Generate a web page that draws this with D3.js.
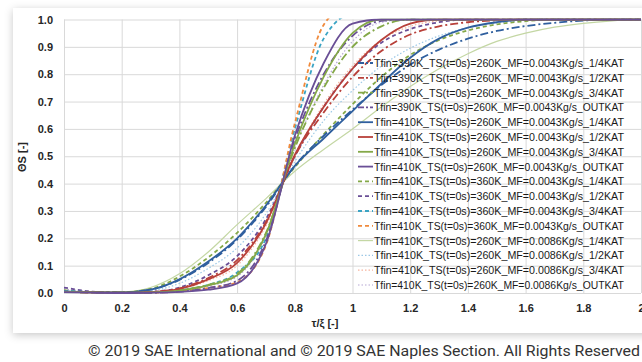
<!DOCTYPE html>
<html>
<head>
<meta charset="utf-8">
<script src="https://cdn.jsdelivr.net/npm/d3@7"></script>
<style>
  body { margin: 0; background: #fff; }
  svg { display: block; }
</style>
</head>
<body>
<div id="chart"></div>
<script>
// x positions (tau/xi) shared by every series
var xVals = [0, 0.1, 0.2, 0.3, 0.4, 0.5, 0.6, 0.7, 0.8, 0.9, 1.0, 1.1, 1.2, 1.3, 1.4, 1.5, 1.6, 1.7, 1.8, 1.9, 2.0]

var xTicks = [0, 0.2, 0.4, 0.6, 0.8, 1, 1.2, 1.4, 1.6, 1.8, 2]
var yTicks = [0, 0.1, 0.2, 0.3, 0.4, 0.5, 0.6, 0.7, 0.8, 0.9, 1.0]

var seriesNames = [
  "Tfin=390K_TS(t=0s)=260K_MF=0.0043Kg/s_1/4KAT",
  "Tfin=390K_TS(t=0s)=260K_MF=0.0043Kg/s_1/2KAT",
  "Tfin=390K_TS(t=0s)=260K_MF=0.0043Kg/s_3/4KAT",
  "Tfin=390K_TS(t=0s)=260K_MF=0.0043Kg/s_OUTKAT",
  "Tfin=410K_TS(t=0s)=260K_MF=0.0043Kg/s_1/4KAT",
  "Tfin=410K_TS(t=0s)=260K_MF=0.0043Kg/s_1/2KAT",
  "Tfin=410K_TS(t=0s)=260K_MF=0.0043Kg/s_3/4KAT",
  "Tfin=410K_TS(t=0s)=260K_MF=0.0043Kg/s_OUTKAT",
  "Tfin=410K_TS(t=0s)=360K_MF=0.0043Kg/s_1/4KAT",
  "Tfin=410K_TS(t=0s)=360K_MF=0.0043Kg/s_1/2KAT",
  "Tfin=410K_TS(t=0s)=360K_MF=0.0043Kg/s_3/4KAT",
  "Tfin=410K_TS(t=0s)=360K_MF=0.0043Kg/s_OUTKAT",
  "Tfin=410K_TS(t=0s)=260K_MF=0.0086Kg/s_1/4KAT",
  "Tfin=410K_TS(t=0s)=260K_MF=0.0086Kg/s_1/2KAT",
  "Tfin=410K_TS(t=0s)=260K_MF=0.0086Kg/s_3/4KAT",
  "Tfin=410K_TS(t=0s)=260K_MF=0.0086Kg/s_OUTKAT"
]

// ΘS values
var s390_14 = [0.005, 0.003, 0.002, 0.012, 0.048, 0.11, 0.195, 0.315, 0.465, 0.575, 0.67, 0.76, 0.835, 0.89, 0.93, 0.958, 0.976, 0.988, 0.996, 1.0, 1.0]
var s390_12 = [0.004, 0.002, 0.001, 0.004, 0.017, 0.055, 0.12, 0.26, 0.5, 0.66, 0.79, 0.885, 0.945, 0.975, 0.99, 0.997, 1.0, 1.0, 1.0, 1.0, 1.0]
var s390_34 = [0.004, 0.002, 0.001, 0.002, 0.01, 0.03, 0.07, 0.22, 0.53, 0.75, 0.9, 0.975, 1.0, 1.0, 1.0, 1.0, 1.0, 1.0, 1.0, 1.0, 1.0]
var s390_out = [0.004, 0.002, 0.0, 0.001, 0.005, 0.018, 0.045, 0.19, 0.56, 0.8, 0.94, 0.995, 1.0, 1.0, 1.0, 1.0, 1.0, 1.0, 1.0, 1.0, 1.0]
var s410_14 = [0.005, 0.003, 0.002, 0.012, 0.05, 0.115, 0.2, 0.32, 0.465, 0.565, 0.665, 0.765, 0.86, 0.93, 0.97, 0.99, 1.0, 1.0, 1.0, 1.0, 1.0]
var s410_12 = [0.004, 0.002, 0.001, 0.003, 0.015, 0.05, 0.11, 0.255, 0.505, 0.68, 0.82, 0.925, 0.985, 1.0, 1.0, 1.0, 1.0, 1.0, 1.0, 1.0, 1.0]
var s410_34 = [0.004, 0.002, 0.001, 0.002, 0.009, 0.028, 0.065, 0.215, 0.545, 0.79, 0.95, 1.0, 1.0, 1.0, 1.0, 1.0, 1.0, 1.0, 1.0, 1.0, 1.0]
var s410_out = [0.003, 0.001, 0.0, 0.001, 0.004, 0.012, 0.035, 0.18, 0.575, 0.84, 0.985, 1.0, 1.0, 1.0, 1.0, 1.0, 1.0, 1.0, 1.0, 1.0, 1.0]
var s360_14 = [0.01, 0.004, 0.003, 0.015, 0.06, 0.13, 0.22, 0.33, 0.46, 0.58, 0.69, 0.79, 0.87, 0.925, 0.96, 0.982, 0.994, 1.0, 1.0, 1.0, 1.0]
var s360_12 = [0.02, 0.005, 0.001, 0.004, 0.02, 0.065, 0.135, 0.27, 0.5, 0.68, 0.82, 0.915, 0.965, 0.99, 1.0, 1.0, 1.0, 1.0, 1.0, 1.0, 1.0]
var s360_34 = [0.008, 0.003, 0.001, 0.002, 0.01, 0.03, 0.075, 0.2, 0.6, 0.93, 1.02, 1.02, 1.02, 1.02, 1.02, 1.02, 1.02, 1.02, 1.02, 1.02, 1.02]
var s360_out = [0.005, 0.002, 0.0, 0.001, 0.006, 0.018, 0.04, 0.175, 0.62, 0.98, 1.06, 1.06, 1.06, 1.06, 1.06, 1.06, 1.06, 1.06, 1.06, 1.06, 1.06]
var m86_14 = [0.008, 0.004, 0.004, 0.02, 0.07, 0.15, 0.25, 0.345, 0.445, 0.525, 0.6, 0.68, 0.755, 0.82, 0.875, 0.92, 0.95, 0.972, 0.986, 0.995, 1.0]
var m86_12 = [0.01, 0.004, 0.002, 0.008, 0.035, 0.09, 0.165, 0.29, 0.48, 0.63, 0.74, 0.83, 0.895, 0.94, 0.97, 0.988, 0.997, 1.0, 1.0, 1.0, 1.0]
var m86_34 = [0.006, 0.002, 0.001, 0.003, 0.014, 0.045, 0.1, 0.245, 0.5, 0.69, 0.83, 0.925, 0.975, 0.995, 1.0, 1.0, 1.0, 1.0, 1.0, 1.0, 1.0]
var m86_out = [0.015, 0.004, 0.001, 0.002, 0.008, 0.025, 0.06, 0.21, 0.53, 0.76, 0.92, 0.99, 1.0, 1.0, 1.0, 1.0, 1.0, 1.0, 1.0, 1.0, 1.0]

var seriesValues = [s390_14, s390_12, s390_34, s390_out, s410_14, s410_12, s410_34, s410_out,
                    s360_14, s360_12, s360_34, s360_out, m86_14, m86_12, m86_34, m86_out]

var seriesColors = ["#2f5f9e", "#b8403a", "#84a848", "#6a4f96",
                    "#2f5f9e", "#b8403a", "#84a848", "#6a4f96",
                    "#84a848", "#6a4f96", "#3aa4c4", "#f08a3c",
                    "#c4d7a4", "#9cc8e6", "#f6b49e", "#b6a8d4"]
var seriesDash = ["8,3,2,3", "8,3,2,3", "8,3,2,3", "8,3,2,3",
                  null, null, null, null,
                  "4,3", "4,3", "4,3", "4,3",
                  null, "1.5,2", "1.5,2", "1.5,2"]
var seriesWidth = [1.8, 1.8, 1.8, 1.8, 1.8, 1.8, 1.8, 1.8, 1.8, 1.8, 1.8, 1.8, 1.2, 1.2, 1.2, 1.2]

var svgSize = { width: 642, height: 362 }
var plot = { left: 64, right: 641, top: 19.5, bottom: 293 }

var svg = d3.select("#chart").append("svg")
  .attr("width", svgSize.width)
  .attr("height", svgSize.height)

var defs = svg.append("defs")
var shadow = defs.append("filter").attr("id", "shadow")
  .attr("x", "-5%").attr("y", "-5%").attr("width", "110%").attr("height", "115%")
shadow.append("feDropShadow").attr("dx", 0).attr("dy", 2).attr("stdDeviation", 4)
  .attr("flood-color", "#000").attr("flood-opacity", 0.22)
defs.append("clipPath").attr("id", "plotclip").append("rect")
  .attr("x", plot.left).attr("y", plot.top - 1)
  .attr("width", plot.right - plot.left + 2).attr("height", plot.bottom - plot.top + 2)

// chart panel
svg.append("rect").attr("x", 13).attr("y", 8).attr("width", 660).attr("height", 325)
  .attr("fill", "#fff").attr("filter", "url(#shadow)")

var xScale = d3.scaleLinear().domain([0, 2]).range([plot.left, plot.right])
var yScale = d3.scaleLinear().domain([0, 1]).range([plot.bottom, plot.top])

// gridlines
svg.append("g")
  .attr("transform", "translate(0," + plot.bottom + ")")
  .call(d3.axisBottom(xScale).tickValues(xTicks).tickSize(-(plot.bottom - plot.top)).tickFormat(""))
  .call(g => g.select(".domain").remove())
  .call(g => g.selectAll("line").attr("stroke", "#d9d9d9"))
svg.append("g")
  .attr("transform", "translate(" + plot.left + ",0)")
  .call(d3.axisLeft(yScale).tickValues(yTicks).tickSize(-(plot.right - plot.left)).tickFormat(""))
  .call(g => g.select(".domain").remove())
  .call(g => g.selectAll("line").attr("stroke", "#d9d9d9"))

// tick labels
var xAxis = svg.append("g")
  .attr("transform", "translate(0," + plot.bottom + ")")
  .call(d3.axisBottom(xScale).tickValues(xTicks).tickSize(0).tickPadding(11).tickFormat(d3.format("")))
xAxis.select(".domain").remove()
var yAxis = svg.append("g")
  .attr("transform", "translate(" + plot.left + ",0)")
  .call(d3.axisLeft(yScale).tickValues(yTicks).tickSize(0).tickPadding(11).tickFormat(d3.format(".1f")))
yAxis.select(".domain").remove()
svg.selectAll(".tick text")
  .attr("font-family", "Liberation Sans, Arial, sans-serif")
  .attr("font-size", 11).attr("font-weight", "bold").attr("fill", "#262626")

// axis titles
svg.append("text").attr("x", 325).attr("y", 327).attr("text-anchor", "middle")
  .attr("font-family", "Liberation Sans, Arial, sans-serif").attr("font-size", 11)
  .attr("font-weight", "bold").attr("fill", "#262626").text("τ/ξ [-]")
svg.append("text").attr("transform", "translate(26,157) rotate(-90)").attr("text-anchor", "middle")
  .attr("font-family", "Liberation Sans, Arial, sans-serif").attr("font-size", 11)
  .attr("font-weight", "bold").attr("fill", "#262626").text("ΘS [-]")

// curves
var line = d3.line()
  .x((d, i) => xScale(xVals[i]))
  .y(d => yScale(d))
  .curve(d3.curveMonotoneX)

var curves = svg.append("g").attr("clip-path", "url(#plotclip)")
// draw light series first so the strong ones sit on top
var drawOrder = [12, 13, 14, 15, 8, 9, 10, 11, 0, 1, 2, 3, 4, 5, 6, 7]
drawOrder.forEach(i => {
  curves.append("path")
    .datum(seriesValues[i])
    .attr("d", line)
    .attr("fill", "none")
    .attr("stroke", seriesColors[i])
    .attr("stroke-width", seriesWidth[i])
    .attr("stroke-dasharray", seriesDash[i])
})

// legend
var legend = svg.append("g")
seriesNames.forEach((name, i) => {
  var y = 63 + i * 14.8
  legend.append("line")
    .attr("x1", 358).attr("x2", 373).attr("y1", y).attr("y2", y)
    .attr("stroke", seriesColors[i]).attr("stroke-width", seriesWidth[i])
    .attr("stroke-dasharray", seriesDash[i] ? (i < 4 ? "6,2,2,2" : seriesDash[i]) : null)
  legend.append("text")
    .attr("x", 374).attr("y", y + 4)
    .attr("font-family", "Liberation Sans, Arial, sans-serif").attr("font-size", 11)
    .attr("fill", "#1a1a1a")
    .attr("textLength", name.length * 5.68).attr("lengthAdjust", "spacingAndGlyphs")
    .text(name)
})

// copyright line
svg.append("text").attr("x", 640).attr("y", 356).attr("text-anchor", "end")
  .attr("font-family", "Roboto, Liberation Sans, sans-serif").attr("font-size", 15)
  .attr("fill", "#333").attr("textLength", 552).attr("lengthAdjust", "spacingAndGlyphs")
  .text("© 2019 SAE International and © 2019 SAE Naples Section. All Rights Reserved")
</script>
</body>
</html>
